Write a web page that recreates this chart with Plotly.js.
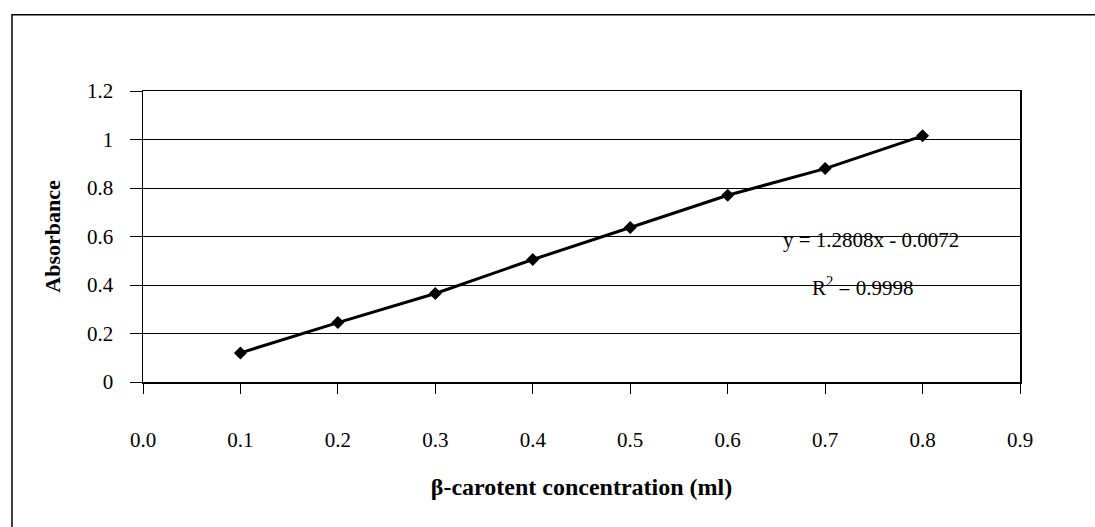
<!DOCTYPE html>
<html>
<head>
<meta charset="utf-8">
<script src="https://cdn.plot.ly/plotly-3.0.1.min.js"></script>
<style>html,body{margin:0;padding:0;background:#fff;}#chart{width:1095px;height:527px;}</style>
</head>
<body>
<div id="chart"></div>
<script>
const concentration = [0.1, 0.2, 0.3, 0.4, 0.5, 0.6, 0.7, 0.8];
const absorbance = [0.12, 0.245, 0.365, 0.505, 0.637, 0.77, 0.88, 1.015];
const xTickVals = [0, 0.1, 0.2, 0.3, 0.4, 0.5, 0.6, 0.7, 0.8, 0.9];
const xTickText = ['0.0', '0.1', '0.2', '0.3', '0.4', '0.5', '0.6', '0.7', '0.8', '0.9'];
const yTickVals = [0, 0.2, 0.4, 0.6, 0.8, 1.0, 1.2];
const yTickText = ['0', '0.2', '0.4', '0.6', '0.8', '1', '1.2'];
const equationText = 'y = 1.2808x - 0.0072';
const r2Text = 'R<sup>2</sup> = 0.9998';

const serif = "'Liberation Serif', 'Times New Roman', Times, serif";

const trace = {
  x: concentration,
  y: absorbance,
  type: 'scatter',
  mode: 'lines+markers',
  line: {color: '#000', width: 3},
  marker: {symbol: 'diamond', size: 10, color: '#000'},
  showlegend: false,
  hoverinfo: 'skip'
};

const layout = {
  width: 1095,
  height: 527,
  margin: {l: 143, r: 75, t: 91, b: 145},
  paper_bgcolor: '#fff',
  plot_bgcolor: '#fff',
  font: {family: serif, color: '#000', size: 21},
  xaxis: {
    range: [0, 0.9],
    tickmode: 'array',
    tickvals: xTickVals,
    ticktext: xTickText,
    ticks: 'outside',
    ticklen: 10,
    tickwidth: 1,
    tickcolor: '#000',
    ticklabelstandoff: 28,
    showgrid: false,
    zeroline: false,
    showline: true,
    mirror: true,
    linecolor: '#000',
    linewidth: 1.5,
    tickfont: {family: serif, size: 21, color: '#000'},
    title: {text: '<b>β-carotent concentration (ml)</b>', font: {family: serif, size: 24, color: '#000'}, standoff: 27}
  },
  yaxis: {
    range: [0, 1.2],
    tickmode: 'array',
    tickvals: yTickVals,
    ticktext: yTickText,
    ticks: 'outside',
    ticklen: 12,
    tickwidth: 1,
    tickcolor: '#000',
    ticklabelstandoff: 12,
    showgrid: true,
    gridcolor: '#000',
    gridwidth: 1,
    zeroline: false,
    showline: true,
    mirror: true,
    linecolor: '#000',
    linewidth: 1.5,
    tickfont: {family: serif, size: 21, color: '#000'},
    title: {text: '<b>Absorbance</b>', font: {family: serif, size: 22, color: '#000'}, standoff: 20}
  },
  annotations: [
    {x: 0.747, y: 0.586, xref: 'x', yref: 'y', text: equationText, showarrow: false,
     font: {family: serif, size: 21, color: '#000'}},
    {x: 0.738, y: 0.392, xref: 'x', yref: 'y', text: r2Text, showarrow: false,
     font: {family: serif, size: 21, color: '#000'}}
  ],
  shapes: [
    {type: 'rect', xref: 'paper', yref: 'paper', x0: -0.1494, x1: 1.3, y0: -0.7, y1: 1.262,
     line: {color: '#000', width: 1.5}, fillcolor: 'rgba(0,0,0,0)', layer: 'below'}
  ]
};

Plotly.newPlot('chart', [trace], layout, {staticPlot: true, displayModeBar: false});
</script>
</body>
</html>
